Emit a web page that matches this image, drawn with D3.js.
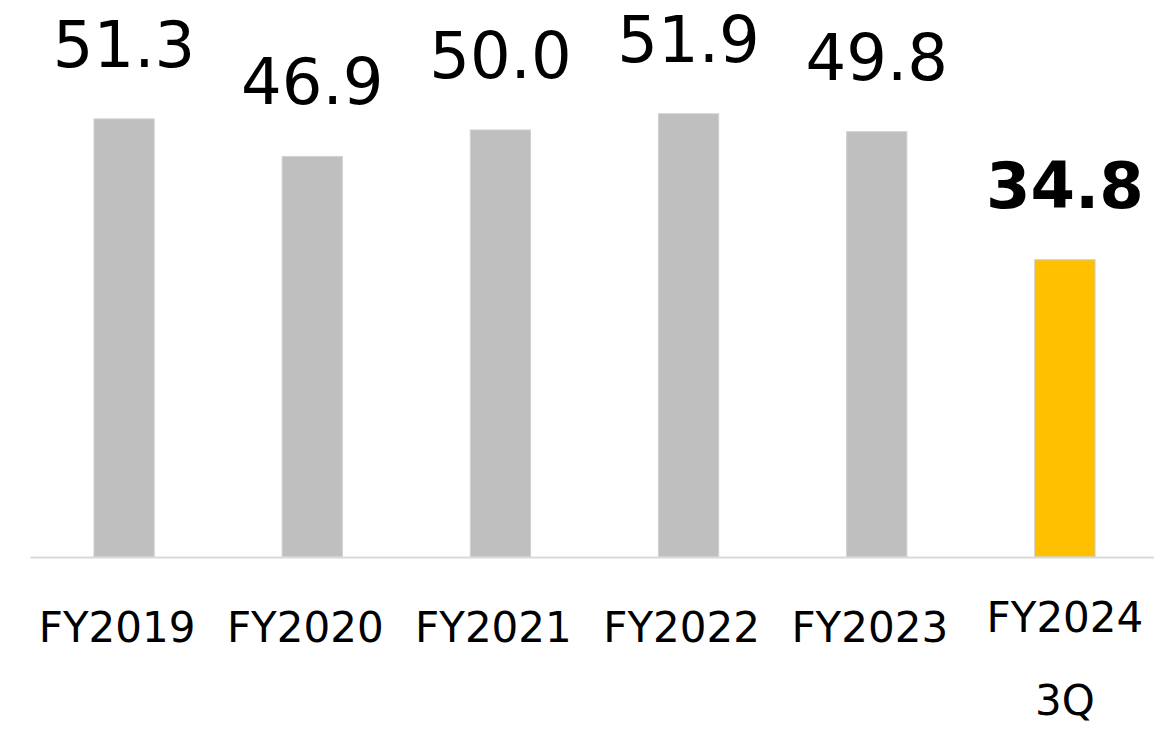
<!DOCTYPE html>
<html>
<head>
<meta charset="utf-8">
<script src="https://cdn.jsdelivr.net/npm/d3@7"></script>
<style>
    body { margin: 0; background: #fff; }
    svg { display: block; font-family: "DejaVu Sans", Verdana, sans-serif; }
</style>
</head>
<body>
<svg id="chart"></svg>
<script>
// chart data
const categories = ['FY2019', 'FY2020', 'FY2021', 'FY2022', 'FY2023', 'FY2024\n3Q'];
const values = [51.3, 46.9, 50.0, 51.9, 49.8, 34.8];
const labels = ['51.3', '46.9', '50.0', '51.9', '49.8', '34.8'];
const highlight = [false, false, false, false, false, true];

const width = 1154, height = 735;
const baseY = 557;

const svg = d3.select('#chart')
    .attr('width', width)
    .attr('height', height);

const xScale = d3.scaleBand()
    .domain(categories)
    .range([30, 1159])
    .paddingInner(0.68)
    .paddingOuter(0.34);

const yScale = d3.scaleLinear()
    .domain([0, 60])
    .range([baseY, baseY - 60 * 8.54]);

const data = categories.map((c, i) => ({ cat: c, value: values[i], label: labels[i], hl: highlight[i] }));

// bars
svg.selectAll('.bar')
    .data(data)
    .join('rect')
        .attr('class', 'bar')
        .attr('x', d => xScale(d.cat))
        .attr('y', d => yScale(d.value))
        .attr('width', xScale.bandwidth())
        .attr('height', d => yScale(0) - yScale(d.value))
        .attr('fill', d => d.hl ? '#ffc000' : '#bfbfbf')
        .attr('stroke', d => d.hl ? '#c8c8c8' : '#d0d0d0')
        .attr('stroke-width', 1);

// baseline axis
const xAxis = d3.axisBottom(xScale).tickSize(0).tickSizeOuter(0);
const xAxisGroup = svg.append('g')
    .attr('class', 'axis x-axis')
    .attr('transform', `translate(0,${baseY})`)
    .call(xAxis)
    .attr('font-family', null)
    .attr('font-size', null);

xAxisGroup.select('.domain')
    .attr('stroke', '#d9d9d9')
    .attr('stroke-width', 2);

xAxisGroup.selectAll('.tick text').remove();

xAxisGroup.selectAll('.tick').each(function(d) {
    const lines = d.split('\n');
    const t = d3.select(this).append('text')
        .attr('fill', '#000')
        .attr('text-anchor', 'middle')
        .style('font-family', '"DejaVu Sans", Verdana, sans-serif')
        .style('font-size', '42px');
    if (lines.length === 1) {
        // single-line labels sit a little left of the bar centre
        t.attr('y', 85).attr('x', -7).text(lines[0]);
    } else {
        lines.forEach((ln, i) => {
            t.append('tspan')
                .attr('x', 0)
                .attr('y', 75 + i * 83)
                .text(ln);
        });
    }
});

// value labels
svg.selectAll('.value-label')
    .data(data)
    .join('text')
        .attr('class', 'value-label')
        .attr('x', d => xScale(d.cat) + xScale.bandwidth() / 2)
        .attr('y', d => yScale(d.value) - 52)
        .attr('text-anchor', 'middle')
        .style('font-size', '64px')
        .style('font-weight', d => d.hl ? 'bold' : 'normal')
        .attr('fill', '#000')
        .text(d => d.label);
</script>
</body>
</html>
